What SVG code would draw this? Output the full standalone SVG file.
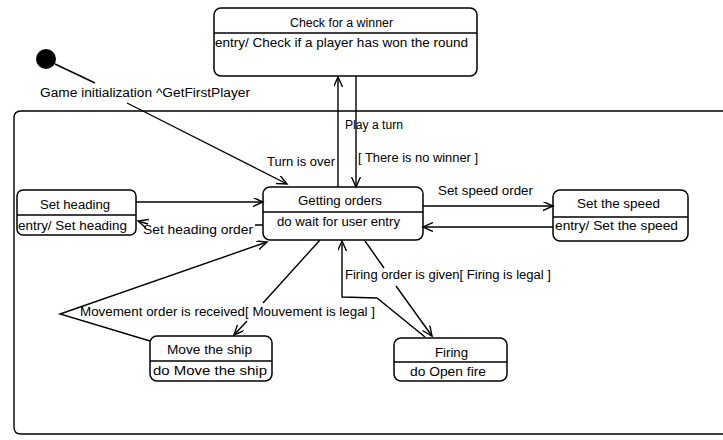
<svg xmlns="http://www.w3.org/2000/svg" width="723" height="440" viewBox="0 0 723 440">
<defs>
<marker id="arr" markerWidth="12" markerHeight="10" refX="10" refY="4.5" orient="auto" markerUnits="userSpaceOnUse">
<path d="M0,0 L10,4.5 L0,9" fill="none" stroke="#000" stroke-width="1.4"/>
</marker>
<style>
.box{fill:#fff;stroke:#000;stroke-width:1.5}
.div{stroke:#000;stroke-width:1.3}
.edge{fill:none;stroke:#000;stroke-width:1.4}
text{font-family:"Liberation Sans",Arial,sans-serif;font-size:12.5px;fill:#000}
</style>
</defs>
<rect width="723" height="440" fill="#fff"/>
<g id="composite">
<path class="edge" d="M723,111 H21 Q14,111 14,118 V427 Q14,434 21,434 H723"/>
</g>
<g id="initial">
<circle cx="46" cy="59" r="10" fill="#000"/>
</g>
<g id="check-winner">
<rect class="box" x="214" y="8" width="263" height="68" rx="7"/>
<line class="div" x1="214" y1="33" x2="477" y2="33"/>
<text x="290" y="27" textLength="103" lengthAdjust="spacingAndGlyphs">Check for a winner</text>
<text x="215" y="47" textLength="253" lengthAdjust="spacingAndGlyphs">entry/ Check if a player has won the round</text>
</g>
<g id="getting-orders">
<rect class="box" x="263" y="187" width="160" height="53" rx="7"/>
<line class="div" x1="263" y1="212" x2="423" y2="212"/>
<text x="298" y="205" textLength="84" lengthAdjust="spacingAndGlyphs">Getting orders</text>
<text x="277" y="226" textLength="123" lengthAdjust="spacingAndGlyphs">do  wait for user entry</text>
</g>
<g id="set-heading">
<rect class="box" x="17" y="190" width="119" height="45" rx="6"/>
<line class="div" x1="17" y1="215" x2="136" y2="215"/>
<text x="40" y="209" textLength="70" lengthAdjust="spacingAndGlyphs">Set heading</text>
<text x="18" y="230" textLength="109" lengthAdjust="spacingAndGlyphs">entry/ Set heading</text>
</g>
<g id="set-speed">
<rect class="box" x="553" y="190" width="135" height="51" rx="7"/>
<line class="div" x1="553" y1="217" x2="688" y2="217"/>
<text x="577" y="208" textLength="83" lengthAdjust="spacingAndGlyphs">Set the speed</text>
<text x="555" y="230" textLength="123" lengthAdjust="spacingAndGlyphs">entry/ Set the speed</text>
</g>
<g id="move-ship">
<rect class="box" x="150" y="336" width="122" height="45" rx="7"/>
<line class="div" x1="150" y1="361" x2="272" y2="361"/>
<text x="167" y="354" textLength="85" lengthAdjust="spacingAndGlyphs">Move the ship</text>
<text x="153" y="375" textLength="114" lengthAdjust="spacingAndGlyphs">do  Move the ship</text>
</g>
<g id="firing">
<rect class="box" x="394" y="338" width="113" height="43" rx="7"/>
<line class="div" x1="394" y1="362" x2="507" y2="362"/>
<text x="435" y="357" textLength="33" lengthAdjust="spacingAndGlyphs">Firing</text>
<text x="410" y="376" textLength="76" lengthAdjust="spacingAndGlyphs">do  Open fire</text>
</g>
<g id="connectors">
<path class="edge" d="M55,64 L95,83 M127,103 L287,184" marker-end="url(#arr)"/>
<text x="40" y="97" textLength="210" lengthAdjust="spacingAndGlyphs">Game initialization ^GetFirstPlayer</text>
<path class="edge" d="M338,187 V77" marker-end="url(#arr)"/>
<text x="267" y="166" textLength="68" lengthAdjust="spacingAndGlyphs">Turn is over</text>
<path class="edge" d="M356,76 V187" marker-end="url(#arr)"/>
<text x="345" y="129" textLength="58" lengthAdjust="spacingAndGlyphs">Play a turn</text>
<text x="358" y="162" textLength="120" lengthAdjust="spacingAndGlyphs">[ There is no winner ]</text>
<path class="edge" d="M136,202 H263" marker-end="url(#arr)"/>
<path class="edge" d="M263,225 H255 M148,224 L138,221" marker-end="url(#arr)"/>
<text x="143" y="234" textLength="110" lengthAdjust="spacingAndGlyphs">Set heading order</text>
<path class="edge" d="M423,206 H553" marker-end="url(#arr)"/>
<text x="438" y="195" textLength="95" lengthAdjust="spacingAndGlyphs">Set speed order</text>
<path class="edge" d="M553,227 H423" marker-end="url(#arr)"/>
<path class="edge" d="M320,240 L263,303 M247,321 L234,335" marker-end="url(#arr)"/>
<text x="80" y="316" textLength="295" lengthAdjust="spacingAndGlyphs">Movement order is received[ Mouvement is legal ]</text>
<path class="edge" d="M150,341 L60,314 L267,242" marker-end="url(#arr)"/>
<path class="edge" d="M365,241 L384,268 M396,286 L432,336" marker-end="url(#arr)"/>
<text x="345" y="279" textLength="206" lengthAdjust="spacingAndGlyphs">Firing order is given[ Firing is legal ]</text>
<path class="edge" d="M425,337 L377,298 L342,297 V241" marker-end="url(#arr)"/>
</g>
</svg>
